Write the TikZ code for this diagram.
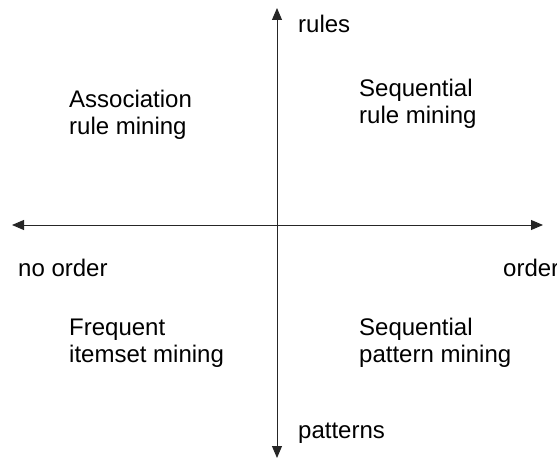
\documentclass[tikz,border=0pt]{standalone}
\usepackage{fontspec}
\setmainfont{Liberation Sans}
\usetikzlibrary{arrows.meta}
\tikzset{
  axis/.style={line width=0.9bp, draw=black!85, -{Triangle[length=12bp,width=10bp]}},
  lbl/.style={anchor=base west, inner sep=0pt, align=left, font=\fontsize{24bp}{27bp}\selectfont}
}
\begin{document}
\begin{tikzpicture}[x=1bp,y=-1bp]
\useasboundingbox (0,0) rectangle (557,463);
\coordinate (c) at (277,225);
\coordinate (l) at (12,225);
\coordinate (r) at (543,225);
\coordinate (t) at (277,8);
\coordinate (b) at (277,458);
\draw[axis] (c) -- (l);
\draw[axis] (c) -- (r);
\draw[axis] (c) -- (t);
\draw[axis] (c) -- (b);
\node[lbl] (rules) at (298,33) {rules};
\node[lbl] (patterns) at (298,438) {patterns};
\node[lbl] (noorder) at (18,276.7) {no order};
\node[lbl] (order) at (503,276.7) {order};
\node[lbl] (arm) at (69,134.7) {Association\\rule mining};
\node[lbl] (srm) at (359,123.5) {Sequential\\rule mining};
\node[lbl] (fim) at (69,362) {Frequent\\itemset mining};
\node[lbl] (spm) at (359,362) {Sequential\\pattern mining};
\end{tikzpicture}
\end{document}
